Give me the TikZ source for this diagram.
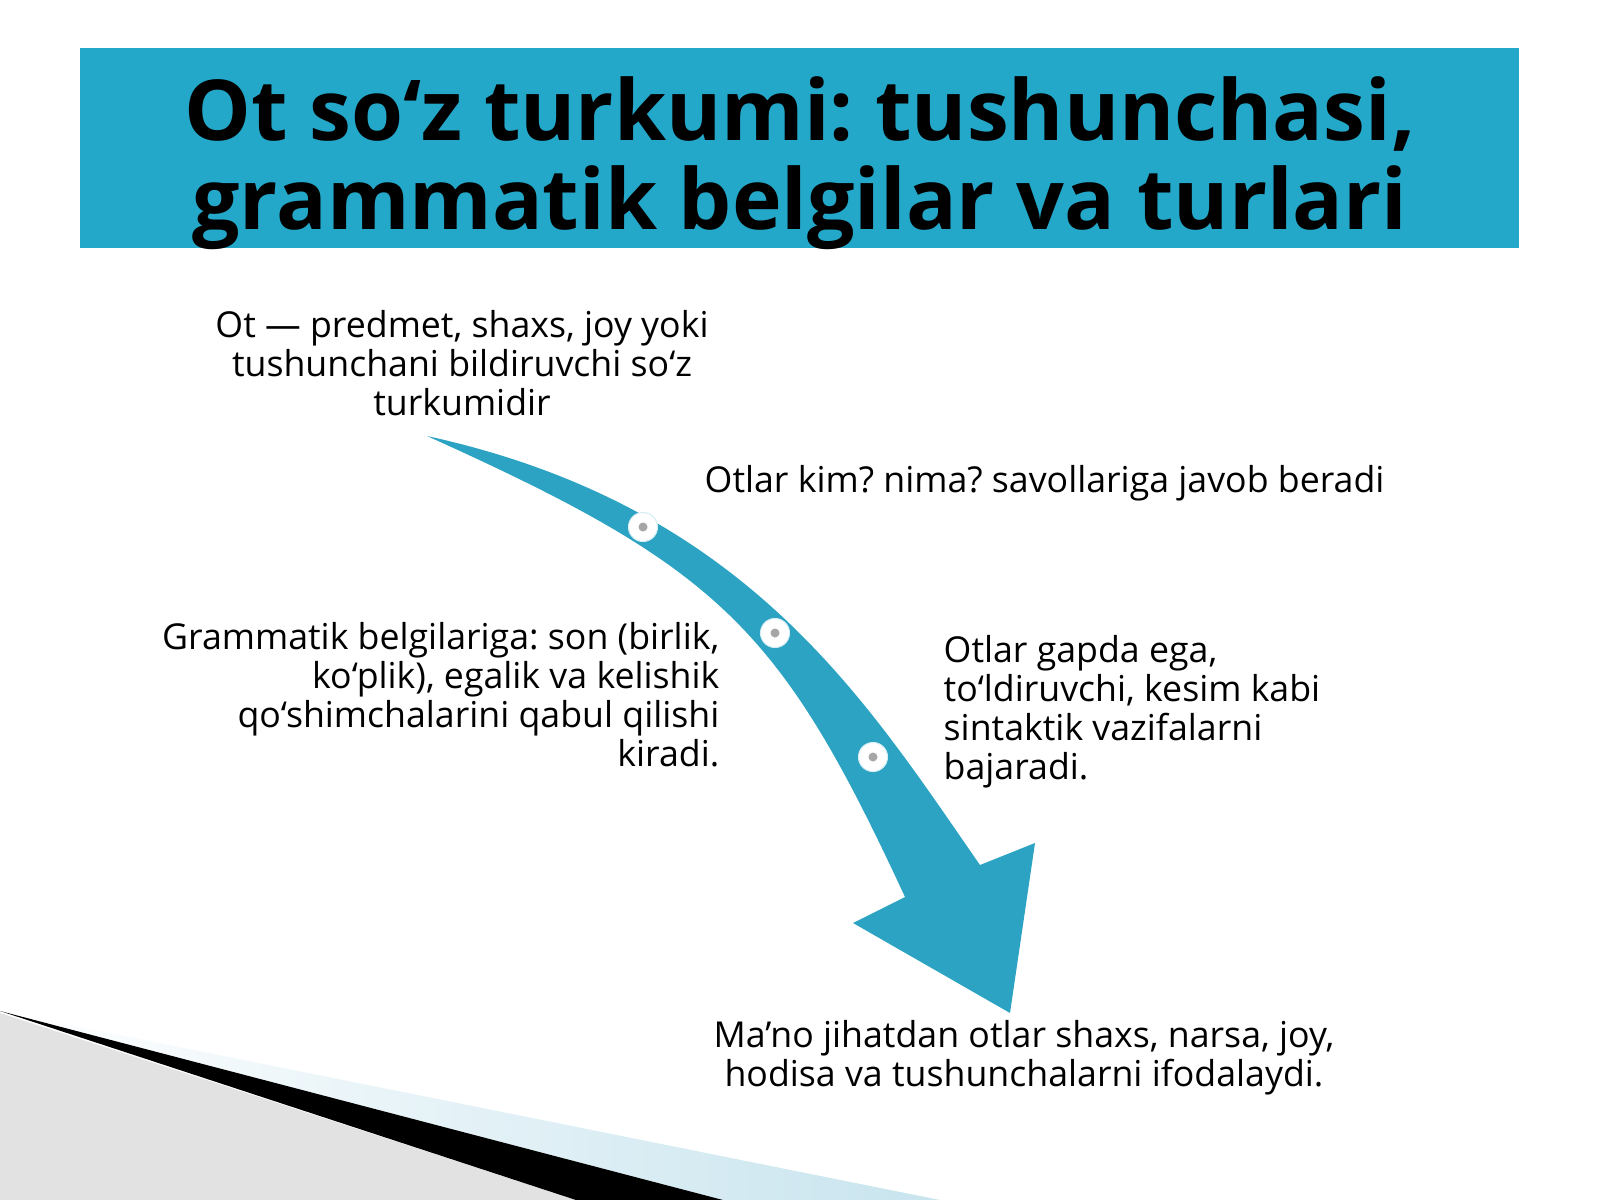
\documentclass[tikz,border=0pt]{standalone}
\usepackage{fontspec}
\setmainfont{Open Sans}
\frenchspacing
\usetikzlibrary{positioning}
\definecolor{bannerblue}{RGB}{36,168,202}
\definecolor{arrowblue}{RGB}{44,163,194}
\definecolor{floorgray}{RGB}{226,226,226}
\definecolor{paleblue}{RGB}{200,228,238}
\tikzset{
    %Define style for the title
    heading/.style={
           font=\fontsize{23.9}{25.2}\selectfont\bfseries,
           align=center,
           inner sep=0pt},
    %Define style for the text blocks
    caption/.style={
           font=\fontsize{10.15}{11.05}\selectfont,
           inner sep=0pt},
    %Define style for the dots on the arrow
    waypoint/.style={
           circle,
           fill=white,
           draw=white!80!arrowblue,
           line width=0.3pt,
           minimum size=0.29cm,
           inner sep=0pt,
           path picture={\fill[black!35] (path picture bounding box.center) circle (0.45mm);}}
}
\begin{document}
\begin{tikzpicture}[x=0.01cm,y=-0.01cm]
\useasboundingbox (0,0) rectangle (1600,1200);
% floor in the corner
\fill[floorgray] (0,1013) -- (576,1200) -- (0,1200) -- cycle;
\shade[left color=white, right color=paleblue] (0,1011) -- (940,1200) -- (723,1200) -- cycle;
\fill[black] (0,1011) -- (723,1200) -- (576,1200) -- cycle;
% banner
\fill[bannerblue] (80,48) rectangle (1519,248);
\node[heading, anchor=north](Title) at (800,76){Ot so‘z turkumi: tushunchasi,\\grammatik belgilar va turlari};
% arrow
\fill[arrowblue] (427,436) .. controls (747,506) and (866,701) .. (980,865)
    -- (1035,843) -- (1010,1013) -- (853,923) -- (905,897)
    .. controls (780,627) and (720,568) .. (427,436) -- cycle;
\node[waypoint](D1) at (643,527){};
\node[waypoint](D2) at (775,633){};
\node[waypoint](D3) at (873,757){};
% texts
\node[caption, align=center, anchor=north](Def) at (462,310){Ot — predmet, shaxs, joy yoki\\tushunchani bildiruvchi so‘z\\turkumidir};
\node[caption, anchor=base west](Ask) at (704,492){Otlar kim? nima? savollariga javob beradi};
\node[caption, align=right, anchor=north east](Gram) at (720,622){Grammatik belgilariga: son (birlik,\\ko‘plik), egalik va kelishik\\qo‘shimchalarini qabul qilishi\\kiradi.};
\node[caption, align=left, anchor=north west](Synt) at (943,635){Otlar gapda ega,\\to‘ldiruvchi, kesim kabi\\sintaktik vazifalarni\\bajaradi.};
\node[caption, align=center, anchor=north](Mean) at (1024,1020){Ma’no jihatdan otlar shaxs, narsa, joy,\\hodisa va tushunchalarni ifodalaydi.};
\end{tikzpicture}
\end{document}
